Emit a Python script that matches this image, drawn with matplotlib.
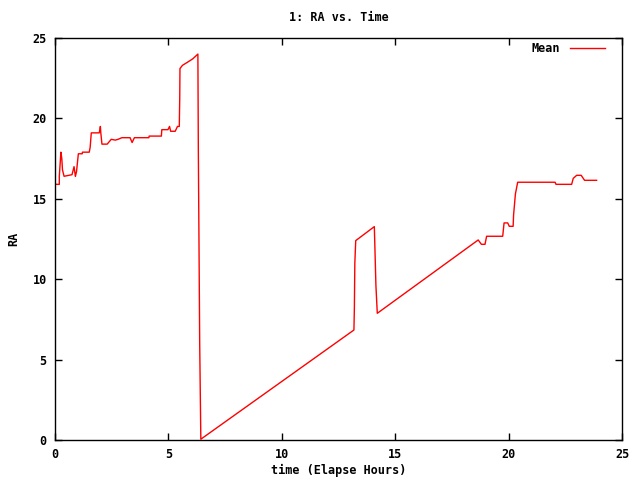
import matplotlib
matplotlib.use("Agg")
import matplotlib.pyplot as plt

# RA mean vs elapsed time
hours = [0.0, 0.19, 0.19, 0.26, 0.3, 0.33, 0.4, 0.75, 0.84, 0.88, 0.9, 0.95, 1.0, 1.03,
         1.2, 1.21, 1.51, 1.55, 1.6, 1.95, 1.98, 2.0, 2.02, 2.07, 2.3, 2.36, 2.48, 2.66,
         2.78, 2.95, 3.31, 3.4, 3.5, 4.14, 4.15, 4.69, 4.71, 4.98, 5.05, 5.1, 5.3, 5.4,
         5.48, 5.5, 5.51, 5.62, 5.85, 6.07, 6.3, 6.32, 6.38, 6.43,
         13.18, 13.2, 13.22, 13.26, 14.08, 14.11, 14.15, 14.21,
         18.66, 18.8, 18.96, 19.03, 19.74, 19.8, 19.96, 20.03, 20.2, 20.22, 20.3, 20.4,
         22.05, 22.09, 22.78, 22.85, 23.0, 23.2, 23.35, 23.88]
ra = [15.9, 15.9, 16.4, 17.9, 17.5, 16.8, 16.4, 16.5, 17.0, 16.6, 16.4, 16.7, 17.4, 17.8,
      17.8, 17.9, 17.9, 18.2, 19.1, 19.1, 19.3, 19.5, 19.1, 18.4, 18.4, 18.5, 18.7, 18.65,
      18.7, 18.8, 18.8, 18.5, 18.8, 18.8, 18.9, 18.9, 19.3, 19.3, 19.5, 19.2, 19.2, 19.5,
      19.5, 21.25, 23.1, 23.3, 23.5, 23.7, 24.0, 18.0, 6.0, 0.05,
      6.84, 8.2, 11.0, 12.4, 13.27, 11.7, 9.6, 7.88,
      12.44, 12.17, 12.17, 12.67, 12.67, 13.5, 13.5, 13.29, 13.29, 14.0, 15.3, 16.03,
      16.03, 15.9, 15.9, 16.27, 16.46, 16.46, 16.15, 16.15]

plt.rcParams['font.family'] = ['DejaVu Sans Mono']
plt.rcParams['font.size'] = 8.5
plt.rcParams['font.weight'] = 'bold'

fig = plt.figure(figsize=(6.4, 4.8), dpi=100)
ax = fig.add_axes([55 / 640, 40 / 480, 567 / 640, 402 / 480])

ax.plot(hours, ra, color="#ff0000", linewidth=1.0, label="Mean")

ax.set_xlim(0, 25)
ax.set_ylim(0, 25)
ax.set_xticks([0, 5, 10, 15, 20, 25])
ax.set_yticks([0, 5, 10, 15, 20, 25])
ax.tick_params(direction="in", length=5, width=1, top=True, right=True, pad=6)
for s in ax.spines.values():
    s.set_linewidth(1)

ax.set_title("1: RA vs. Time", fontsize=8.5, fontweight="bold", pad=12)
ax.set_xlabel("time (Elapse Hours)", fontweight="bold", labelpad=2)
ax.set_ylabel("RA", fontweight="bold", labelpad=9)

leg = ax.legend(loc="upper right", frameon=False, markerfirst=False,
                handlelength=3.0, borderaxespad=0.4, borderpad=0.2,
                handletextpad=0.8, bbox_to_anchor=(0.983, 1.008))

fig.savefig("out.png", dpi=100)
